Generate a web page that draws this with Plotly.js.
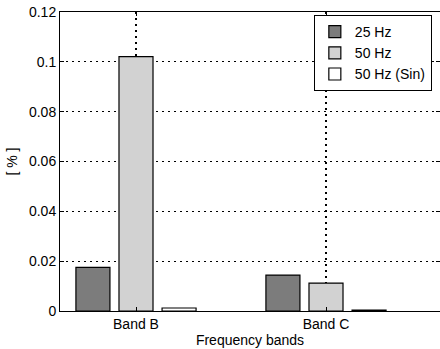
<!DOCTYPE html>
<html>
<head>
<meta charset="utf-8">
<script src="https://cdn.plot.ly/plotly-3.0.1.min.js"></script>
<style>
  html, body { margin: 0; padding: 0; background: #fff; }
  #chart { width: 440px; height: 349px; }
</style>
</head>
<body>
<div id="chart"></div>
<script>
// Frequency bands on the x axis
const bands = ['Band B', 'Band C'];

// Relative values per band, in percent
const hz25 = [0.0175, 0.0144];
const hz50 = [0.1021, 0.0112];
const hz50sin = [0.0012, 0.0004];

const seriesNames = ['25 Hz', '50 Hz', '50 Hz (Sin)'];

const FONT = 'Liberation Sans, Arial, Helvetica, sans-serif';

function barTrace(name, values, fill) {
  return {
    type: 'bar',
    name: name,
    x: bands,
    y: values,
    marker: { color: fill, line: { color: '#000', width: 1.2 } },
    hoverinfo: 'skip'
  };
}

const traces = [
  barTrace(seriesNames[0], hz25, '#7c7c7c'),
  barTrace(seriesNames[1], hz50, '#d2d2d2'),
  barTrace(seriesNames[2], hz50sin, '#ffffff')
];

const axisCommon = {
  showline: true,
  linecolor: '#000',
  linewidth: 1,
  mirror: 'ticks',
  ticks: 'inside',
  ticklen: 4,
  tickcolor: '#000',
  showgrid: true,
  gridcolor: '#000',
  gridwidth: 1.3,
  griddash: '1.5px,4.5px',
  zeroline: false,
  tickfont: { family: FONT, size: 14, color: '#000' }
};

const layout = {
  width: 440,
  height: 349,
  margin: { l: 60, r: 0, t: 12, b: 38 },
  paper_bgcolor: '#fff',
  plot_bgcolor: '#fff',
  barmode: 'group',
  bargap: 0.32,
  bargroupgap: 0.21,
  font: { family: FONT, size: 14, color: '#000' },
  xaxis: Object.assign({}, axisCommon, {
    type: 'category',
    range: [-0.4, 1.6],
    ticklabelstandoff: 0,
    title: { text: 'Frequency bands', font: { family: FONT, size: 14, color: '#000' }, standoff: 2 }
  }),
  yaxis: Object.assign({}, axisCommon, {
    range: [0, 0.12],
    dtick: 0.02,
    tick0: 0,
    title: { text: '[ % ]', font: { family: FONT, size: 14, color: '#000' }, standoff: 8 }
  }),
  legend: {
    x: 0.668,
    y: 0.99,
    xanchor: 'left',
    yanchor: 'top',
    bgcolor: '#fff',
    bordercolor: '#000',
    borderwidth: 1,
    font: { family: FONT, size: 14, color: '#000' },
    tracegroupgap: 0,
    itemwidth: 30
  },
  showlegend: true
};

Plotly.newPlot('chart', traces, layout, { staticPlot: true, displayModeBar: false });
</script>
</body>
</html>
